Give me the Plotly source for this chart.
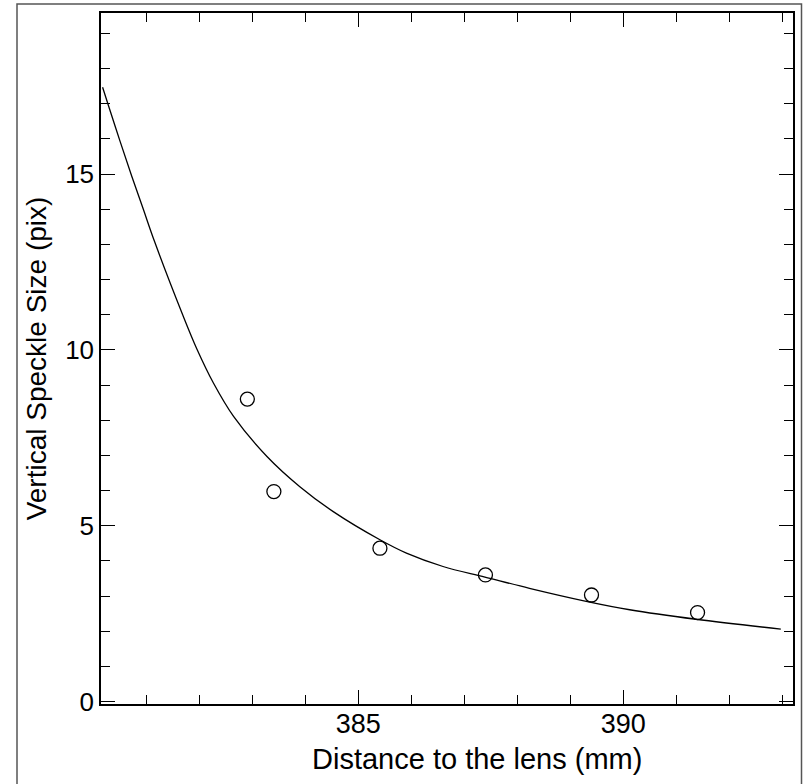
import plotly.graph_objects as go

# measured data points
dist_mm = [382.91, 383.41, 385.41, 387.40, 389.40, 391.40]
speckle_pix = [8.60, 5.97, 4.36, 3.60, 3.03, 2.53]

# fitted curve
fit_x = [380.18, 380.29, 380.51, 380.73, 380.95, 381.16, 381.69, 381.96, 382.27,
         382.65, 383.28, 383.90, 384.53, 385.41, 385.91, 386.60, 387.39, 388.23,
         389.30, 390.12, 391.37, 392.97]
fit_y = [17.47, 16.95, 15.93, 14.94, 13.99, 13.08, 11.00, 10.02, 9.06,
         8.11, 6.97, 6.11, 5.40, 4.60, 4.22, 3.84, 3.54, 3.22,
         2.85, 2.61, 2.34, 2.06]

x_ticks = [385, 390]
y_ticks = [0, 5, 10, 15]
x_title = "Distance to the lens (mm)"
y_title = "Vertical Speckle Size (pix)"

fig = go.Figure()
fig.add_trace(go.Scatter(x=fit_x, y=fit_y, mode="lines",
                         line=dict(color="black", width=1.3, shape="spline", smoothing=1.0),
                         showlegend=False, hoverinfo="skip"))
fig.add_trace(go.Scatter(x=dist_mm, y=speckle_pix, mode="markers",
                         marker=dict(symbol="circle-open", size=14, color="black",
                                     line=dict(color="black", width=1.3)),
                         showlegend=False))

fam = "Liberation Sans, Arial, Helvetica, sans-serif"

fig.update_layout(
    width=807, height=784,
    margin=dict(l=101, r=14, t=13, b=80),
    paper_bgcolor="white", plot_bgcolor="white",
    font=dict(family=fam, size=26, color="black"),
    xaxis=dict(range=[380.15, 393.2], tickvals=x_ticks, ticks="inside", ticklen=14,
               tickwidth=1.2, tickcolor="black", showline=True, linecolor="black",
               linewidth=1.5, mirror="ticks", showgrid=False, zeroline=False,
               tickfont=dict(size=27), automargin=False, ticklabelstandoff=-5,
               minor=dict(dtick=1, tick0=380, ticks="inside", ticklen=9, tickwidth=1.2,
                          tickcolor="black", showgrid=False)),
    yaxis=dict(range=[-0.07, 19.58], tickvals=y_ticks, ticks="inside", ticklen=14,
               tickwidth=1.2, tickcolor="black", showline=True, linecolor="black",
               linewidth=1.5, mirror="ticks", showgrid=False, zeroline=False,
               tickfont=dict(size=26), automargin=False,
               minor=dict(dtick=1, tick0=0, ticks="inside", ticklen=9, tickwidth=1.2,
                          tickcolor="black", showgrid=False),
               title=dict(text=y_title, font=dict(size=28), standoff=10)),
    annotations=[dict(text=x_title, xref="paper", yref="paper",
                      x=(476.5 - 101) / 692, y=(704 - 759) / 691,
                      xanchor="center", yanchor="middle", showarrow=False,
                      font=dict(size=29, family=fam, color="black"))],
    shapes=[dict(type="rect", xref="paper", yref="paper",
                 x0=(17 - 101) / 692, x1=(801.5 - 101) / 692,
                 y0=(704 - 800) / 691, y1=(704 - 4) / 691,
                 line=dict(color="#555555", width=1.5), fillcolor="rgba(0,0,0,0)",
                 layer="below")],
)

fig.write_html("out.html", config={"displayModeBar": False},
               post_script="document.body.style.margin='0';")
